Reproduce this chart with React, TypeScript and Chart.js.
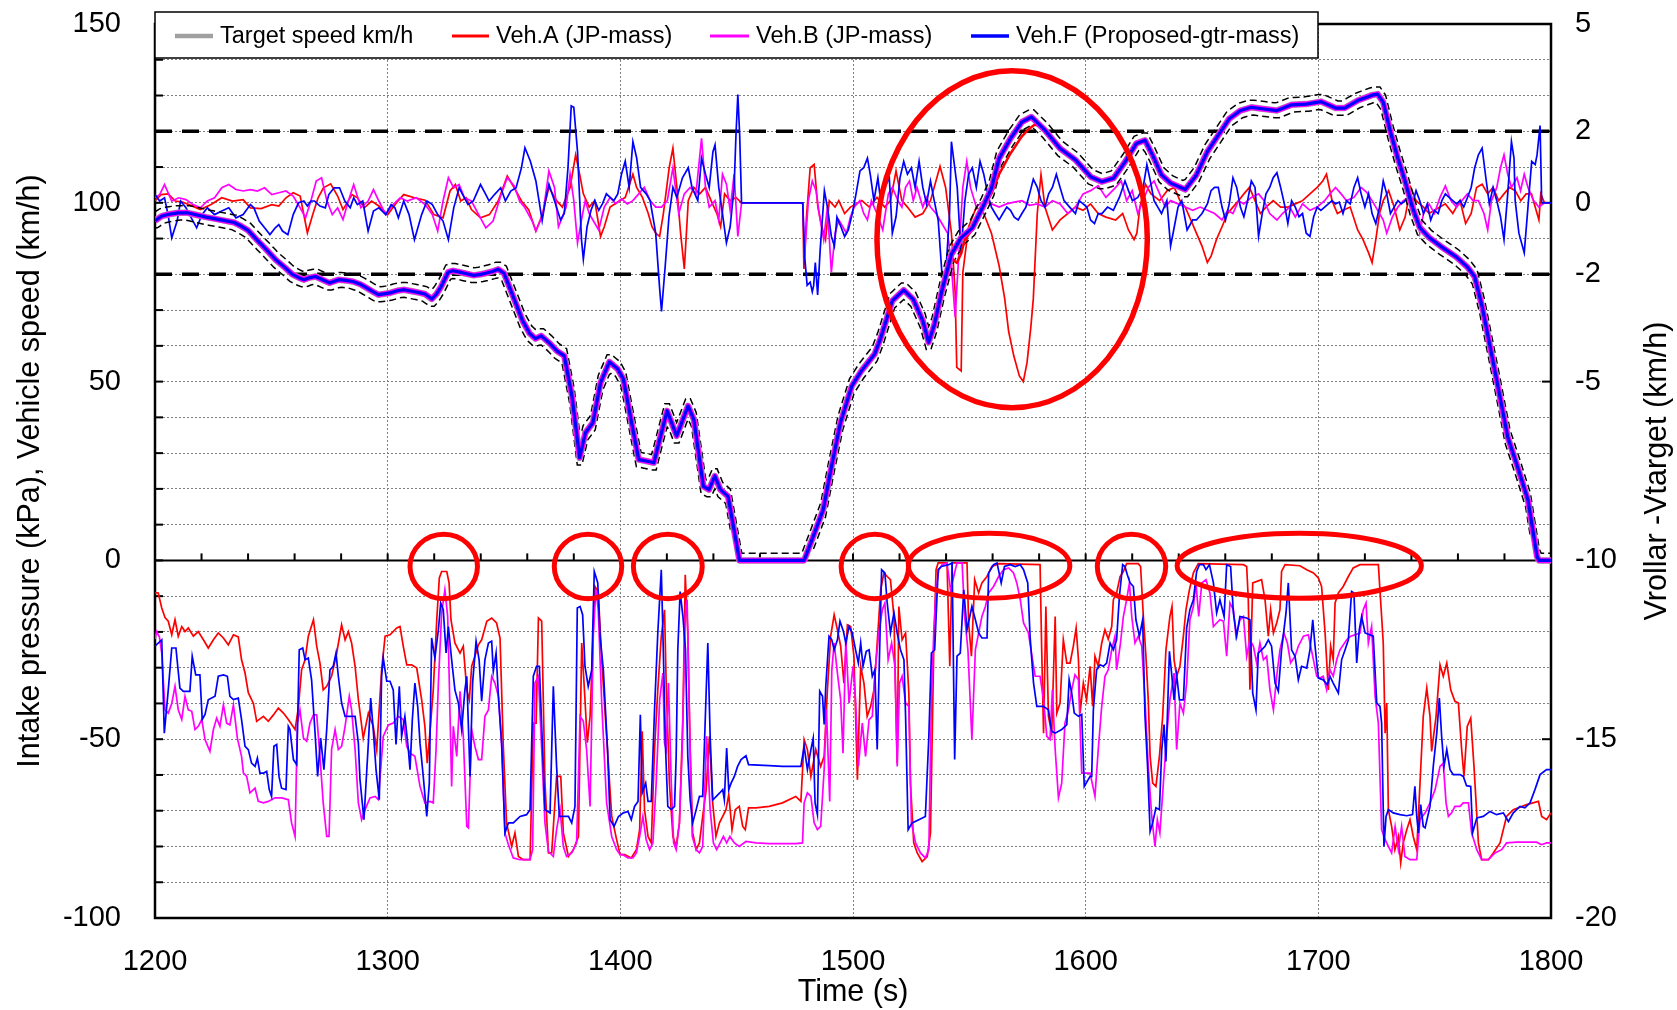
import React, { useEffect, useRef } from 'react';
import { Chart, registerables } from 'chart.js';

Chart.register(...registerables);

const FONT = '"Liberation Sans", Arial, Helvetica, sans-serif';

// ---------- labels / ticks ----------
const legendLabels = ['Target speed km/h', 'Veh.A (JP-mass)', 'Veh.B (JP-mass)', 'Veh.F (Proposed-gtr-mass)'];
const rightTicks = [5, 2, 0, -2, -5, -10, -15, -20];
const toleranceLimits = [2, -2]; // km/h on right axis
const leftTitle = 'Intake pressure (kPa), Vehicle speed (km/h)';
const rightTitle = 'Vrollar -Vtarget (km/h)';
const xTitle = 'Time (s)';

// ---------- vehicle speed (km/h), left axis ----------
const speedTarget: number[][] = [
  [1200,95],[1203,96.3],[1206,96.8],[1210,97.2],[1214,97.2],[1218,96.6],[1222,96],[1226,95.5],[1230,95],[1234,94.5],[1237,93.5],[1240,92.3],[1244,89.5],[1248,86.8],[1252,84],[1256,81.8],[1259,80],[1262,79],[1264,78.5],[1266,79],[1269,79.4],[1272,78.5],[1275,77.6],[1279,78.5],[1282,78.3],[1285,78],[1288,77.3],[1291,76.2],[1294,75],[1296,74.3],[1299,74.6],[1301,74.8],[1304,75.4],[1307,75.7],[1311,75.2],[1314,74.8],[1316,74.5],[1319,73.1],[1321,74.5],[1323,76.6],[1326,80.6],[1328,81],[1331,80.6],[1333,80.3],[1337,79.7],[1340,80],[1342,80.3],[1345,80.8],[1347.5,81.4],[1350,80.3],[1352,77],[1355,72],[1358,67],[1361,63.5],[1363.5,62],[1366,62.8],[1369.5,60.8],[1372.7,58.6],[1375.9,57.2],[1379.2,46],[1382.5,28.7],[1385,35.7],[1388.2,38.5],[1391.5,49.7],[1395.3,55.5],[1398.9,53.5],[1401.3,50.7],[1405.4,36.6],[1407.9,28.2],[1411.1,27.8],[1414.4,27.3],[1416.9,33.8],[1420.1,41.8],[1424.2,34.8],[1429.1,43.2],[1431.6,39.4],[1435.7,20.7],[1438.1,19.8],[1440.6,23.6],[1443,19.8],[1446.3,17.9],[1451.2,0],[1479,0],[1484,8.6],[1487.2,14.2],[1490.5,25.4],[1494.6,38.5],[1499.5,48.8],[1503.6,53],[1509.3,57.7],[1511.8,62],[1516.9,72.6],[1521.8,75.6],[1525.9,73],[1530,67],[1532.5,61],[1535,66],[1538.2,75.4],[1542.3,85.6],[1546.4,90.2],[1551.3,93],[1556.2,99.4],[1559.5,104],[1562.8,112.4],[1567.7,118],[1572.6,122.6],[1576.7,124],[1582.5,120.3],[1589,115.2],[1595.6,112],[1602.1,107.3],[1607,105.9],[1612,106.9],[1617,111.5],[1621.8,116.6],[1625.5,117.5],[1628.7,113.4],[1632.6,107.8],[1636.5,105.5],[1642.8,103.7],[1647.6,107.8],[1652.3,114.3],[1657,118.9],[1661.7,123.5],[1666.5,125.8],[1671.2,126.7],[1675.9,126.3],[1682.2,125.8],[1688.5,127.4],[1694.8,127.6],[1701.1,128.3],[1707.4,126.5],[1711.3,126.5],[1716.9,128.6],[1723.1,130.1],[1725.5,130.4],[1727.9,128.1],[1731,119.8],[1734.2,112.4],[1737.3,106],[1740.5,98.6],[1743.6,93.1],[1747.6,90.3],[1753.1,87.6],[1759.4,84.8],[1764.1,82],[1767.2,79.3],[1770.4,71],[1776.7,50.3],[1781.4,34.5],[1786.1,25.2],[1790.1,16.9],[1794,1.1],[1794.8,0],[1800,0]
];
// Veh.A falls behind the target during the two dips between 1540 s and 1582 s
const speedALag: number[][] = [
  [1542.3,84.5],[1544.6,83.2],[1546.5,85.8],[1548,89.6],[1551.3,92.6],[1556.2,99],[1559.5,102.6],[1562.8,108],[1567.7,113.8],[1572.6,118.6],[1575.5,120.6],[1578,121.8],[1580.5,121.6]
];
const speedA: number[][] = [
  ...speedTarget.filter(([t]) => t < 1542),
  ...speedALag,
  ...speedTarget.filter(([t]) => t > 1582),
];
// Veh.B and Veh.F follow the target trace within the line width
const speedB = speedTarget;
const speedF = speedTarget;

// ---------- Vrollar - Vtarget (km/h), right axis ----------
const devA: number[][] = [
  [1200,0.05],[1202.6,0.23],[1205.7,0.25],[1208.7,0.05],[1211.8,0.02],[1216.4,-0.1],[1219.5,-0.19],[1224.1,-0.05],[1228.7,0.14],[1233.3,0.05],[1237.9,0.09],[1241,-0.14],[1245.6,-0.16],[1250.2,-0.05],[1253.2,-0.09],[1256.3,0.14],[1259.4,0.28],[1262.4,0.19],[1265.5,-0.84],[1267.8,-0.33],[1270.1,0.14],[1272.4,0.42],[1275.5,0.53],[1278.5,0.19],[1280.8,-0.19],[1284.7,0.23],[1287,0.14],[1290,-0.14],[1293.1,0.05],[1296.2,-0.09],[1300,-0.33],[1303.8,0],[1306.9,0.23],[1311.5,0.14],[1316.1,0.07],[1319.9,-0.33],[1323.8,-0.42],[1326.8,0.33],[1329.1,0.51],[1331.4,0.05],[1333.7,0.14],[1336,-0.19],[1339.9,-0.42],[1343.7,-0.33],[1347.5,0.05],[1351.4,0.75],[1354.4,0.42],[1357.5,0.05],[1360.6,-0.19],[1363.7,-0.79],[1366.4,-0.35],[1369.3,0.43],[1372.6,0.06],[1375.1,-0.12],[1378.4,0.43],[1380.8,1.34],[1382.5,0.8],[1384.1,0.25],[1386.6,-0.12],[1389,0.06],[1391.5,-0.94],[1393.1,-0.67],[1395.6,-0.12],[1398.9,0.02],[1402.1,0.15],[1405.4,0.8],[1407,0.43],[1409.5,0.15],[1412,-0.3],[1413.6,-0.67],[1415.2,-0.85],[1416.9,-0.94],[1418.5,-0.3],[1421,0.98],[1422.6,1.53],[1424.3,0.43],[1425.9,-0.85],[1427.5,-1.85],[1429.2,0.06],[1431.6,0.43],[1434.1,0.25],[1436.6,0.43],[1439,0.06],[1441.5,-0.3],[1443.1,-0.67],[1444.8,0.25],[1447.2,0.06],[1449.7,0.15],[1452.1,0],[1478.4,0],[1478.9,-1.85],[1480,-0.4],[1481.6,0.98],[1483.3,1.07],[1484.9,-0.12],[1486.6,-0.67],[1488.2,-1.03],[1489.8,0.06],[1492.3,-0.12],[1493.9,0.06],[1496.4,-0.3],[1498.9,-0.12],[1501.3,-0.03],[1503.8,0.06],[1507,-0.12],[1510.3,0.15],[1513.6,-0.12],[1516.1,0.06],[1518.5,0.89],[1521,0.06],[1523.4,-0.12],[1526.7,-0.4],[1530,-0.3],[1533.3,0.06],[1537.4,1.02],[1539.8,0.43],[1542.3,-0.85],[1543.9,-2.5],[1544.6,-4.6],[1546.5,-4.7],[1547.2,-1.95],[1549.7,-0.67],[1553,-0.12],[1556.2,-0.3],[1559.5,-0.85],[1562.8,-1.76],[1565.2,-2.68],[1566.9,-3.6],[1569.1,-4.28],[1571.5,-4.84],[1573.2,-5.0],[1574.8,-4.47],[1576.4,-3.5],[1577.5,-2.68],[1579.2,-0.3],[1580.8,0.79],[1582.5,-0.12],[1585.7,-0.76],[1589,-0.48],[1592.3,-0.3],[1595.6,-0.12],[1598.9,-0.21],[1602.1,-0.03],[1605.4,-0.3],[1608.7,-0.4],[1612.9,-0.48],[1615.9,-0.3],[1618.4,-0.76],[1620.8,-1.03],[1622,-0.85],[1623.3,-0.12],[1625.7,0.52],[1628.1,0.25],[1631.8,0.06],[1635,0.34],[1638.1,0.43],[1640.5,0.06],[1642.8,-0.12],[1645.2,-0.48],[1647.6,-0.85],[1650,-1.21],[1652.3,-1.67],[1653.9,-1.49],[1656.2,-1.03],[1658.6,-0.67],[1661,-0.3],[1663.3,-0.12],[1665.7,0.06],[1668,0.25],[1670.4,0.43],[1672.8,0.06],[1675.1,-0.3],[1677.5,-0.12],[1680.6,0.06],[1683.8,-0.12],[1686.9,-0.12],[1690.1,-0.03],[1693.2,0.06],[1696.4,0.25],[1699.5,0.43],[1701.9,0.61],[1703.5,0.8],[1705.9,0.06],[1708.2,-0.3],[1710.6,-0.21],[1713.7,-0.12],[1716.9,-0.76],[1719.2,-1.03],[1721.6,-1.4],[1723.1,-1.67],[1724.7,-1.03],[1726.3,-0.3],[1727.9,0.06],[1730.2,0.34],[1732.6,-0.12],[1735,-0.76],[1737.3,-0.4],[1739.7,0.43],[1742,0.06],[1745.2,-0.12],[1747.6,-0.3],[1749.9,-0.21],[1752.3,-0.12],[1754.6,-0.03],[1757.8,-0.3],[1760.9,0.06],[1763.3,-0.58],[1765.7,-0.3],[1768,0.43],[1770.4,0.52],[1772.8,0.25],[1775.1,0.43],[1777.5,0.06],[1779.8,0.25],[1782.2,0.43],[1784.6,0.34],[1787,0.06],[1789.3,0.25],[1791.6,0.25],[1793.2,-0.12],[1794.8,-0.48],[1795.6,0.25],[1797.2,0],[1800,0]
];
const devB: number[][] = [
  [1200,0.14],[1202,0.23],[1204.1,0.51],[1207.2,0.05],[1210.2,0.14],[1213.3,0.09],[1216.4,-0.05],[1219.5,-0.14],[1222.5,0.05],[1225.6,0.14],[1228.7,0.42],[1231.7,0.51],[1234.8,0.37],[1237.9,0.33],[1241,0.37],[1244,0.33],[1247.1,0.42],[1250.2,0.23],[1253.2,0.28],[1256.3,0.33],[1259.4,0.19],[1262.4,-0.14],[1264.7,-0.42],[1267,0.05],[1269.3,0.61],[1271.6,0.7],[1273.9,0.05],[1276.2,-0.33],[1278.5,-0.14],[1280.8,-0.47],[1283.1,0.05],[1285.4,0.51],[1288.5,-0.14],[1291.6,0.05],[1293.9,0.37],[1296.2,0.05],[1299.2,-0.33],[1302.3,-0.05],[1305.4,0.14],[1308.4,0.05],[1312.3,0.14],[1316.1,-0.05],[1319.2,-0.33],[1321.5,-0.79],[1323.8,0.05],[1326.1,0.7],[1328.4,0.42],[1330.7,0.51],[1333,0.14],[1336,0.05],[1339.1,-0.33],[1342.2,-0.7],[1345.3,-0.51],[1348.3,0.14],[1351.4,0.7],[1354.4,0.47],[1356.7,0.05],[1359,-0.14],[1362.1,-0.51],[1363.7,-0.79],[1366.7,-0.33],[1369.3,0.89],[1371.7,0.43],[1373.4,-0.67],[1375.1,-0.4],[1376.7,-0.12],[1378.4,0.8],[1380,0.06],[1381.6,-1.12],[1383.3,-0.48],[1384.9,0.06],[1386.6,-0.3],[1388.2,-0.48],[1390.7,-0.76],[1393.1,-0.12],[1395.6,0.15],[1398,-0.03],[1400.5,0.11],[1403,-0.03],[1405.4,0.06],[1407.9,0.25],[1410.3,0.43],[1412.8,0.06],[1415.2,-0.12],[1417.7,-0.12],[1420.2,0.06],[1422.6,0.98],[1425.1,-0.3],[1427.5,0.25],[1430,0.43],[1432.5,0.25],[1434.9,1.8],[1436.6,0.43],[1438.2,-0.12],[1440.7,0.06],[1442.3,-0.48],[1443.9,0.8],[1445.6,0.52],[1447.2,-0.21],[1448.9,0.8],[1450.5,-0.94],[1452.1,0],[1478.4,0],[1479.2,-1.49],[1480.8,0.06],[1482.5,0.61],[1484.1,0.34],[1485.7,-0.4],[1487.4,-1.03],[1489,-0.12],[1490.7,-1.95],[1492.3,-0.85],[1493.9,-0.48],[1495.6,-0.67],[1497.2,-0.85],[1498.9,-0.4],[1500.5,-0.12],[1502.9,0.06],[1504.6,-0.3],[1506.2,-0.48],[1507.9,0.06],[1510.3,-0.3],[1512.8,-0.76],[1515.2,0.25],[1516.9,0.43],[1519.3,0.06],[1521,-0.12],[1522.6,0.43],[1524.3,0.61],[1525.9,0.06],[1527.5,0.43],[1530,-0.12],[1531.6,0.15],[1533.3,-0.12],[1535.7,-0.3],[1538.2,-0.58],[1540.7,-0.85],[1542.3,-1.76],[1543.9,-3.2],[1545.6,-1.31],[1547.2,0.43],[1548.9,1.16],[1550.5,0.43],[1553,-0.12],[1556.2,0.06],[1559.5,-0.03],[1562.8,-0.12],[1566,-0.03],[1569.3,0.02],[1572.6,0.06],[1575.9,-0.07],[1579.2,-0.03],[1582.5,-0.12],[1585.7,0.06],[1589,-0.03],[1592.3,-0.3],[1595.6,-0.12],[1598.9,0.25],[1602.1,0.34],[1605.4,0.48],[1608.7,0.15],[1612.9,0.43],[1615.3,0.61],[1617.6,0.06],[1620,0.34],[1622.4,-0.3],[1624.7,0.06],[1626.9,0.43],[1629.4,0.61],[1631.8,0.25],[1634.2,-0.12],[1636.5,0.06],[1639.7,-0.03],[1642.8,-0.12],[1646,-0.21],[1649.2,-0.12],[1652.3,-0.21],[1655.4,-0.3],[1658.6,-0.48],[1661,-0.21],[1663.3,-0.3],[1665.7,0.06],[1668,-0.03],[1671.2,0.15],[1674.3,0.25],[1676.7,0.06],[1679.1,-0.3],[1682.2,-0.48],[1684.6,-0.3],[1687.7,-0.12],[1690.1,-0.4],[1693.2,-0.03],[1696.4,-0.21],[1699.5,-0.12],[1702.7,0.06],[1705,0.25],[1707.4,0.43],[1709.8,0.25],[1712.1,0.06],[1715.3,0.15],[1718.4,0.43],[1720.8,0.29],[1723.1,0.06],[1725.5,-0.21],[1727.9,-0.48],[1729.4,-0.85],[1731.8,-0.4],[1734.2,-0.12],[1736.5,0.06],[1738.9,0.15],[1741.3,-0.03],[1743.6,-0.85],[1745.2,-0.3],[1747.6,-0.03],[1749.9,-0.3],[1752.3,0.15],[1754.6,0.47],[1757,0.06],[1759.4,-0.12],[1761.7,0.06],[1764.1,0.25],[1766.5,0.06],[1768.8,0.06],[1771.2,-0.3],[1772.8,-0.76],[1774.4,0.06],[1776.7,0.43],[1778.3,0.98],[1779.8,1.34],[1781.4,0.8],[1783,0.43],[1785.4,0.7],[1786.9,0.34],[1788.5,0.8],[1790.1,0.43],[1792.5,0.06],[1794.8,-0.12],[1797.2,0],[1800,0]
];
const devF: number[][] = [
  [1200,0.23],[1202,0.05],[1204.1,0.14],[1205.6,-0.33],[1207.2,-0.98],[1209.5,-0.51],[1211,0.05],[1213.3,-0.14],[1215.6,-0.42],[1217.9,-0.7],[1220.2,-0.33],[1222.5,-0.14],[1225.6,-0.33],[1228.7,-0.23],[1231.7,-0.14],[1234.8,-0.42],[1237.9,-0.33],[1241,-0.05],[1242.5,-0.14],[1244.8,-0.51],[1247.1,-0.7],[1249.4,-0.89],[1251.7,-0.7],[1253.2,-0.61],[1254.8,-0.79],[1257.1,-0.89],[1259.4,-0.33],[1261.7,0],[1264,0.05],[1265.5,-0.09],[1267,0.05],[1268.6,0.05],[1270.9,-0.09],[1273.2,-0.14],[1274.7,0.23],[1277,0.42],[1279.3,0.42],[1281.6,0.05],[1283.9,-0.14],[1285.4,0.14],[1287,-0.05],[1289.3,0.05],[1291.6,-0.79],[1293.9,-0.23],[1296.2,-0.14],[1299.2,-0.33],[1301.5,-0.05],[1303.1,-0.14],[1304.6,-0.42],[1306.9,0.05],[1309.2,-0.33],[1311.5,-1.03],[1314.6,-0.33],[1316.9,0.05],[1319.2,-0.05],[1321.5,-0.33],[1323.8,-0.51],[1326.1,-1.03],[1328.4,-0.14],[1330.7,0.42],[1333,0.14],[1334.5,-0.05],[1336.8,0.05],[1339.9,0.51],[1342.2,0.23],[1343.6,0.05],[1345.9,0.23],[1348.6,0.42],[1350.6,0.05],[1352.9,0.33],[1355.2,0.42],[1357.5,0.98],[1359,1.54],[1361.3,1.17],[1363.7,0.61],[1366.4,-0.5],[1367.8,0.06],[1369.3,0.52],[1371.7,0.06],[1374.3,-0.48],[1375.9,-0.3],[1377.5,0.98],[1378.9,2.71],[1380,2.67],[1381.6,1.43],[1383.3,-1.03],[1384.1,-1.58],[1385.7,-0.67],[1387.4,-0.21],[1389,0.06],[1390.7,-0.21],[1392.3,-0.03],[1394,0.25],[1395.6,0.15],[1397.2,0.06],[1398.9,0.25],[1400.5,0.8],[1402.1,1.16],[1403.8,0.43],[1405.4,1.71],[1407,1.26],[1408.7,0.43],[1411.1,0.25],[1412.8,0.06],[1415.2,-0.85],[1416.9,-2.4],[1417.7,-3.04],[1419.3,-1.76],[1420.9,-0.39],[1422.6,0.43],[1424.3,0.15],[1426.7,0.7],[1429.2,0.98],[1430.8,0.43],[1433.3,0.06],[1434.9,1.25],[1436.6,0.8],[1438.2,0.43],[1439.8,1.43],[1440.7,1.62],[1442.3,0.43],[1443.9,-0.3],[1445.6,-1.12],[1447.2,-0.67],[1448.9,0.43],[1449.7,1.89],[1450.5,3.03],[1451.3,1.89],[1452.1,0],[1478.4,0],[1479.2,-1.49],[1480.3,-2.31],[1481.6,-2.22],[1482.5,-2.49],[1483.1,-2.31],[1483.8,-1.67],[1484.8,-2.58],[1485.9,-1.31],[1487.7,0.34],[1489,-0.12],[1490.7,-0.94],[1492,-1.21],[1493.1,-0.4],[1494.8,-0.67],[1496.4,-0.94],[1498,-0.76],[1499.7,-0.3],[1501.3,0.25],[1503,0.89],[1504.6,0.98],[1506.2,1.25],[1507.4,0.8],[1509,0.06],[1510.7,0.7],[1512,-0.03],[1513.6,0.43],[1515.6,0.7],[1516.9,-0.85],[1518.5,-0.39],[1520.2,0.7],[1521.8,1.16],[1523.4,0.8],[1525.1,0.98],[1526.7,0.43],[1528.4,1.16],[1530,0.43],[1531.6,-0.03],[1533.3,0.61],[1534.9,0.06],[1536.6,-0.48],[1538.2,-1.95],[1539.8,-2.04],[1541.5,-0.3],[1542.3,1.71],[1544.8,0.43],[1546.4,-1.4],[1548.1,0.06],[1549.7,0.8],[1551.3,0.98],[1553,0.43],[1554.6,1.16],[1556.2,0.8],[1557.9,0.25],[1559.5,-0.12],[1561.1,-0.3],[1562.8,-0.48],[1564.4,-0.3],[1566.1,-0.12],[1567.7,-0.21],[1569.3,-0.4],[1571,-0.48],[1572.6,-0.3],[1574.3,-0.12],[1575.9,0.25],[1577.5,0.66],[1579.2,0.43],[1580.8,0.06],[1582.5,-0.12],[1584.1,0.25],[1585.7,0.43],[1587.4,0.8],[1589,0.43],[1590.7,0.06],[1593.1,-0.12],[1595.6,-0.3],[1597.2,0.06],[1598.9,-0.03],[1600.5,-0.12],[1602.1,-0.48],[1603.8,-0.58],[1605.4,-0.3],[1607,-0.3],[1609.4,-0.12],[1611.9,-0.21],[1614.5,0.15],[1616.9,0.61],[1618.4,0.34],[1620.1,0.06],[1622.4,0.15],[1624.7,0.43],[1626.3,1.07],[1627.8,0.61],[1629.4,0.06],[1631,-0.12],[1632.6,-0.3],[1634.9,0.06],[1636.5,-1.21],[1638.1,-0.67],[1639.7,-0.12],[1641.3,0.06],[1643.6,-0.76],[1646,-0.48],[1647.6,-0.48],[1650,-0.3],[1652.3,-0.03],[1653.9,0.34],[1655.4,0.43],[1657,0.43],[1658.6,-0.12],[1660.1,-0.48],[1661.7,-0.03],[1663.3,0.7],[1664.9,0.43],[1666.5,-0.12],[1668,-0.39],[1669.6,0.06],[1671.2,0.61],[1672.8,0.43],[1674.3,-0.94],[1675.9,-0.3],[1677.5,0.25],[1679.1,0.43],[1680.6,0.7],[1682.2,0.84],[1683.8,0.43],[1685.4,-0.03],[1686.9,-0.58],[1688.5,0.06],[1690.1,-0.12],[1691.7,-0.39],[1693.2,-0.3],[1694.8,-0.85],[1696.4,-0.94],[1698,-0.39],[1699.5,-0.12],[1701.1,-0.21],[1702.7,-0.12],[1704.3,-0.03],[1705.9,0.06],[1707.4,-0.03],[1709,0.02],[1710.6,-0.3],[1712.1,0.06],[1713.7,-0.03],[1715.3,0.43],[1716.9,0.7],[1718.4,0.25],[1720,-0.12],[1721.6,0.25],[1723.1,-0.3],[1724.7,-0.58],[1726.3,-0.12],[1727.9,0.61],[1729.4,0.25],[1731,-0.3],[1732.6,-0.12],[1734.2,0.06],[1735.7,-0.03],[1737.3,0.06],[1738.9,0.15],[1740.5,-0.03],[1742,0.34],[1743.6,0.06],[1745.2,-0.3],[1746.8,-0.03],[1748.3,-0.48],[1749.9,-0.21],[1751.5,-0.3],[1753.1,0.06],[1754.6,0.25],[1756.2,0.15],[1757.8,0.06],[1759.4,-0.03],[1760.9,0.06],[1762.5,-0.12],[1764.1,0.15],[1765.7,0.43],[1767.2,0.98],[1768.8,1.34],[1770.4,1.53],[1772,0.7],[1773.5,-0.03],[1775.1,0.43],[1776.7,0.06],[1778.3,-0.39],[1779.8,-1.03],[1781.4,0.25],[1783,1.71],[1784.1,1.25],[1784.6,0.06],[1786.2,-0.85],[1788.5,-1.4],[1790.1,-0.12],[1791.7,1.16],[1793.2,1.07],[1794,1.34],[1795.3,2.16],[1796,0],[1797.2,0],[1800,0]
];

// ---------- intake pressure (kPa), left axis ----------
const pressA: number[][] = [
  [1200,-9],[1201.4,-9.1],[1202.9,-13.3],[1204.3,-16],[1205.7,-17],[1207.2,-20.8],[1208.6,-16.6],[1210,-21.2],[1211.5,-18.5],[1212.9,-19.9],[1214.3,-18.9],[1216.5,-21.2],[1218.6,-19.9],[1220.8,-22.2],[1222.9,-24.5],[1225.1,-22.2],[1227.2,-20.3],[1229.4,-21.7],[1231.5,-23.6],[1233.7,-20.8],[1235.8,-21.4],[1237.2,-27.8],[1238.7,-31.5],[1240.1,-37],[1242.3,-40],[1243.7,-45],[1246.6,-43.6],[1248.7,-45],[1250.9,-43.2],[1253,-41.3],[1255.2,-42.7],[1257.3,-44.5],[1260.2,-47.3],[1261.6,-41.3],[1263,-30.6],[1264.5,-27.8],[1265.9,-21.2],[1268.1,-16.6],[1269.5,-24],[1270.9,-28.7],[1272.3,-36.2],[1273.8,-35.2],[1275.9,-32.4],[1278.1,-25.9],[1280.2,-18],[1281.7,-22.2],[1283.1,-19.9],[1284.5,-23.1],[1286,-29.6],[1287.4,-38.9],[1289.5,-49.7],[1291.7,-42.7],[1293.8,-46.4],[1295.3,-53],[1297.4,-30.6],[1298.9,-21.2],[1301,-20.8],[1303.9,-18.9],[1305.3,-18.5],[1306.7,-24],[1308.2,-29.2],[1310.3,-29.2],[1312.5,-30.1],[1314.6,-38.9],[1316,-46.4],[1317,-56.7],[1318.2,-47.8],[1319.6,-36.2],[1321.1,-16.6],[1322.2,-4.9],[1323.2,-3.1],[1325.4,-3.1],[1326.4,-6.3],[1327.2,-16.6],[1328.9,-23.1],[1331.1,-25.9],[1332.5,-24],[1334,-36.2],[1335.1,-39],[1336.1,-29.6],[1337.5,-26.8],[1339,-23.6],[1340.4,-22.2],[1342.6,-17],[1344.7,-16.1],[1346.8,-17.5],[1348.3,-21.7],[1349.7,-52],[1351.1,-73.4],[1353.3,-80],[1354.7,-76.2],[1356.2,-82.8],[1358.3,-83.7],[1361.2,-83.7],[1362.6,-45.5],[1363.8,-45.5],[1364.8,-16.1],[1366.2,-17],[1367.6,-62],[1369.1,-81.8],[1370.5,-81.8],[1372.6,-60.4],[1374.4,-60.4],[1375.5,-76.2],[1377.7,-82.8],[1379.8,-80.9],[1382,-77.2],[1383.4,-23.1],[1384.8,-38.9],[1385.8,-51],[1387,-43.6],[1389.1,-7.3],[1390.5,-8.7],[1392,-27.8],[1394.1,-49.2],[1396.3,-71.6],[1398.4,-78.1],[1399.9,-82.3],
  [1401.9,-82.3],[1404.7,-83.2],[1406.9,-80.9],[1408.3,-75.3],[1409.4,-47.8],[1410.4,-69.7],[1411.9,-77.2],[1413.3,-79],[1414.7,-52.9],[1416.1,-36.2],[1417.6,-21.2],[1419,-13.8],[1419.7,-34.3],[1421.1,-62.3],[1422.6,-77.2],[1424,-80],[1425.4,-73.4],[1426.9,-43.6],[1427.9,-4],[1429,-20.3],[1430,-52.9],[1431.1,-76.2],[1432.6,-80.9],[1434,-79],[1435.4,-71.6],[1436.9,-64.1],[1438.3,-49.2],[1439.7,-67.8],[1441.1,-77.2],[1442.6,-73.4],[1444,-71.6],[1445.4,-69.7],[1446.6,-65.5],[1448,-75.3],[1449.4,-69.7],[1451.1,-68.8],[1452.6,-74.4],[1453.7,-75.3],[1455.1,-69.2],[1458.3,-69.2],[1464,-68.8],[1469.7,-67.8],[1475.4,-66],[1477.6,-67.4],[1479,-50.1],[1480.4,-52.9],[1481.9,-60.4],[1484,-52.9],[1486.1,-57.6],[1487.6,-54.8],[1489,-36.2],[1490.4,-21.2],[1491.9,-15.2],[1493.3,-19.4],[1494.7,-24],[1496.1,-34.3],[1497.6,-18],[1499,-18.5],[1500.4,-26.8],[1501.9,-61.3],[1503.3,-29.6],[1504.7,-34.3],[1506.1,-43.6],[1507.6,-40.8],[1509,-36.2],[1510.4,-23.1],[1511.9,-8.2],[1513.3,-3.5],[1514.7,-4.5],[1516.1,-5.4],[1517.6,-15.7],[1519,-56.7],[1519.7,-12.9],[1521.1,-22.2],[1522.6,-20.3],[1524,-37.1],[1524.7,-62.3],[1526.1,-79],[1527.6,-81.8],[1529.7,-84.2],[1531.9,-82.8],[1533.3,-76.2],[1534.7,-25],[1535.7,-2.6],[1536.6,-0.7],[1540.4,-0.7],[1541.6,-29.6],[1542.6,-0.7],[1549,-0.7],[1549.7,-17.5],[1550.9,-26.8],[1552.3,-5.4],[1554,-9.1],[1555.4,-6.3],[1557.6,-4.5],[1559.7,-1.7],[1562.6,-0.9],[1580.4,-1.2],[1581.1,-25],[1581.9,-48.3],[1582.9,-12.9],[1584,-43.6],[1585.4,-48.3],[1586.9,-15.7],[1587.6,-42.7],[1589,-39.9],[1590.4,-22.2],[1591.9,-28.7],[1593.3,-28.7],[1594.7,-24],[1595.9,-18.9],[1596.9,-27.8],[1597.6,-42.7],[1599,-34.3],[1600.4,-39],
  [1601.9,-29.6],[1603,-40.8],[1604,-26.8],[1605.4,-29.6],[1606.9,-23.1],[1608.3,-19.4],[1609.7,-22],[1611.2,-18.5],[1611.9,-11],[1613.3,-9.1],[1614.8,-4.5],[1616.2,-3.1],[1617.6,-0.9],[1622.6,-0.9],[1623.6,-1.7],[1624.8,-15.7],[1625.9,-26.8],[1626.9,-39],[1627.7,-54.8],[1628.8,-62.3],[1630.2,-63.2],[1631.7,-54.8],[1633.1,-43.6],[1634.5,-25],[1636.2,-15.7],[1637.1,-12.9],[1638,-27.8],[1639.1,-32.4],[1640.5,-29.6],[1642,-21.2],[1643.1,-13.8],[1644.6,-8.2],[1646.3,-3.5],[1648.4,-0.9],[1667.8,-1.2],[1669.2,-1.7],[1669.9,-11],[1670.6,-36.2],[1671.8,-6.3],[1675.6,-5.4],[1677.1,-11],[1678.5,-21.2],[1679.5,-13.8],[1680.7,-20.3],[1682.1,-17.5],[1683.5,-13.8],[1684.2,-3.1],[1685.7,-1.2],[1692.1,-1.5],[1695,-2.6],[1697.9,-3.5],[1700,-4.9],[1701.4,-7.3],[1702.9,-20.3],[1704.3,-36.2],[1705.3,-24],[1706.4,-27.8],[1707.2,-11.9],[1708.6,-9.1],[1710.7,-7.3],[1712.9,-4.5],[1715,-2.1],[1717.9,-1.2],[1725.8,-1.2],[1727.2,-15.7],[1727.9,-23.1],[1728.7,-48.3],[1729.4,-39.9],[1730.1,-69.7],[1731.5,-74.4],[1732.9,-80.9],[1734.4,-77.2],[1735.4,-84.6],[1736.5,-79],[1738,-75.3],[1739.4,-72.5],[1740.8,-77.2],[1742.3,-80.9],[1743.7,-62.3],[1745.1,-43.6],[1746.6,-35.7],[1748,-43.6],[1748.7,-53.4],[1750.6,-43.6],[1752.3,-29.2],[1753.7,-32.4],[1755.2,-28.7],[1756.9,-36.2],[1758.7,-39.4],[1760.2,-39.9],[1761.6,-52.9],[1762.6,-60.4],[1764,-46.4],[1765.5,-44.1],[1766.9,-57.6],[1768.8,-79],[1770.2,-83.7],[1773.1,-83.7],[1775.2,-81.8],[1778.1,-79],[1780.9,-71.6],[1783.8,-69.7],[1789.5,-68.3],[1794.6,-67.4],[1796,-71.6],[1798.1,-72.5],[1800,-70.6]
];
const pressB: number[][] = [
  [1200,-22],[1200.7,-19.9],[1201.9,-21.4],[1202.9,-25.9],[1204.3,-41.8],[1205.7,-42.7],[1207.2,-40],[1208.6,-35.2],[1210,-41.8],[1211.5,-44.5],[1212.9,-38],[1214.3,-41.8],[1215.8,-42.2],[1217.2,-47.3],[1218.6,-46.4],[1220.1,-44.5],[1221.5,-50.1],[1223.6,-53.4],[1225.1,-47.3],[1226.5,-44.1],[1227.9,-46.4],[1229.4,-40.4],[1230.8,-45.5],[1232.2,-46],[1233.7,-40.4],[1235.4,-49.7],[1237.2,-54.8],[1238,-59.5],[1239.4,-60.4],[1240.8,-65],[1243,-63.7],[1244.4,-67.4],[1246.6,-67.8],[1248.7,-67.4],[1251.6,-66.4],[1254.4,-66.4],[1257.3,-66.9],[1258.7,-73.4],[1260.2,-77.2],[1261.2,-45.5],[1262.3,-41.8],[1263.8,-49.7],[1265.2,-50.6],[1266.6,-45.5],[1268.1,-43.2],[1269.5,-43.2],[1270.9,-54.8],[1272.3,-67.8],[1273.8,-77.2],[1274.8,-77.2],[1275.9,-52.9],[1277.4,-47.3],[1278.8,-52.9],[1280.2,-52],[1281.7,-46.4],[1283.5,-38],[1284.5,-41.8],[1286,-52.9],[1287.4,-67.8],[1288.8,-72.5],[1290.3,-69.7],[1292.4,-66.4],[1294.6,-66],[1296,-66.9],[1298.1,-49.2],[1300.3,-46],[1302.4,-45.5],[1304.6,-43.6],[1306.7,-44.5],[1308.2,-52],[1309.6,-53.9],[1311.7,-54.8],[1313.9,-63.2],[1316,-67.8],[1318.2,-67.4],[1319.6,-67.8],[1320.8,-52.9],[1321.8,-34.3],[1323.2,-14.7],[1324.6,-8.2],[1325.8,-15.7],[1326.5,-34.3],[1327.5,-63.2],[1328.2,-46.4],[1329.7,-54.8],[1331.1,-36.6],[1332.5,-49.2],[1334,-74.4],[1334.7,-74.8],[1336.1,-47.3],[1337.5,-52],[1339,-55.7],[1340.4,-55.7],[1341.8,-43.6],[1343.3,-41.8],[1344.7,-32.4],[1346.1,-34.3],[1347.6,-38],[1349,-52],[1350.4,-76.2],[1351.9,-79.5],[1354,-83.2],[1356.9,-83.7],[1361.2,-83.7],[1362.3,-80.9],[1363.3,-34.3],[1364.8,-32.4],[1366.2,-52.9],[1367.6,-73.4],[1369.1,-81.4],[1371.2,-82.8],[1372.6,-75.3],[1374.1,-69.7],[1375.5,-80],[1376.9,-82.8],[1379.1,-81.8],[1381.2,-79],[1382.7,-43.6],[1384.1,-45],[1385.5,-52.9],[1387,-68.8],[1388.4,-20.3],[1389.5,-8.2],[1390.5,-13.8],[1392,-39.9],[1394.1,-67.8],[1396.3,-77.2],[1398.4,-80.9],[1399.9,-82.3],
  [1401.1,-82.3],[1403.3,-83.2],[1405.4,-83.2],[1406.9,-81.8],[1408.3,-77.2],[1409.7,-71.6],[1411.1,-78.1],[1412.6,-80.9],[1414,-79],[1415.4,-62.3],[1416.9,-39],[1418.3,-31.5],[1419,-51.1],[1419.7,-52.9],[1420.7,-34.3],[1421.9,-62.3],[1422.9,-79],[1424,-80.9],[1425.4,-73.4],[1426.6,-52.9],[1427.9,-15.7],[1428.7,-11],[1429.7,-43.6],[1430.9,-77.2],[1432.6,-80.9],[1434,-81.8],[1435.4,-80],[1437.1,-49.2],[1438.6,-69.7],[1440,-79],[1441.4,-80.9],[1442.9,-79],[1444.3,-77.2],[1445.7,-79],[1447.1,-77.2],[1449,-79],[1451.1,-80],[1454,-78.6],[1458.3,-79],[1464,-79.2],[1469.7,-79.2],[1475.4,-79.2],[1478.3,-79],[1479,-67.8],[1480.4,-65],[1481.9,-66],[1483.3,-73.4],[1484.7,-75.3],[1486.1,-74.4],[1487.6,-58.5],[1488.6,-41.8],[1490,-67.4],[1490.9,-30.6],[1491.9,-23.1],[1493.3,-31.5],[1494.7,-39],[1495.7,-53.9],[1496.9,-22.2],[1498.3,-39.9],[1500,-29.6],[1501.1,-39],[1502.3,-57.6],[1504,-45.5],[1505.4,-54.8],[1506.9,-44.5],[1508.3,-43.6],[1509.7,-29.6],[1511.1,-20.3],[1512.6,-13.8],[1513.7,-11.9],[1515.1,-27.8],[1516.6,-23.1],[1518,-29.6],[1519,-57.6],[1520,-34.3],[1521.1,-32.4],[1522.6,-39.9],[1524,-40.8],[1525.1,-73.4],[1526.9,-79],[1529,-81.8],[1531.1,-83.2],[1532.6,-80.9],[1533.7,-39],[1534.7,-20.3],[1535.7,-8.2],[1536.9,-2.6],[1538.3,-1.2],[1540.4,-0.7],[1541.9,-8.2],[1543.3,-4.5],[1544.7,-0.7],[1546.9,-0.7],[1548,-15.7],[1549.4,-25],[1551.1,-50.1],[1552.6,-25],[1554,-20.3],[1555.4,-15.7],[1556.9,-12.9],[1558.3,-9.1],[1560.4,-7.3],[1562.6,-4.5],[1564.7,-2.6],[1566.9,-2.1],[1569,-3.5],[1570.4,-6.3],[1571.9,-11],[1573.3,-17.5],[1575.4,-20.3],[1576.9,-26.8],[1578.3,-32.4],[1580.4,-32.4],[1581.9,-39],[1583.3,-49.2],[1584.7,-50.1],[1585.7,-36.2],[1586.9,-52.9],[1588.3,-66.4],[1589.7,-62.3],[1591.1,-45.5],[1592.6,-41.8],[1594,-36.2],[1595.4,-32],[1596.9,-33.4],[1598.3,-59.5],[1601.9,-59.5],
  [1604,-66],[1605.4,-52.9],[1606.9,-40.8],[1608.3,-32.4],[1609.7,-30.6],[1611.2,-25],[1612.6,-21.2],[1613.3,-30.6],[1614.8,-24],[1616.2,-15.7],[1617.6,-11],[1618.8,-6.3],[1619.8,-15.7],[1621.2,-23.1],[1622.6,-21.2],[1624.1,-24],[1625.5,-39],[1626.9,-57.6],[1628.4,-71.6],[1629.8,-80],[1630.8,-72.5],[1631.9,-76.2],[1633.4,-62.3],[1634.8,-49.2],[1636.2,-39],[1638,-31.5],[1639.1,-52.9],[1640.5,-39.9],[1642,-42.7],[1643.4,-34.3],[1644.8,-16.6],[1646.3,-12.9],[1647.4,-6.3],[1648.6,-15.7],[1649.9,-6.3],[1651.7,-5.4],[1653.4,-9.1],[1654.9,-18.5],[1656.3,-17.5],[1657.7,-16.6],[1659.2,-17],[1660.6,-26.8],[1662,-11.9],[1663.5,-13.8],[1664.6,-21.2],[1666.3,-16.6],[1667.8,-15.7],[1669.2,-26.8],[1670.6,-22.2],[1672.1,-24],[1673.5,-28.7],[1674.9,-23.1],[1676.4,-27.8],[1677.8,-26.8],[1679.2,-36.2],[1680.7,-41.8],[1682.1,-32.4],[1683.5,-25],[1685.2,-20.3],[1686.7,-23.1],[1688.1,-28.7],[1690,-26.8],[1691.4,-24],[1693.6,-21.2],[1695.7,-20.8],[1697.9,-27.8],[1699.3,-32.4],[1700.7,-32.9],[1702.1,-32.4],[1703.6,-36.2],[1705,-30.6],[1706.4,-32.4],[1707.9,-27.8],[1709.3,-25],[1712.2,-22.2],[1713.9,-21.2],[1717.9,-20.3],[1719.3,-13.8],[1720.5,-11.9],[1721.5,-23.1],[1722.9,-18.5],[1724.4,-38],[1725.8,-45.5],[1727.2,-75.3],[1728.7,-78.1],[1730.1,-80],[1731.5,-81.8],[1733,-74.4],[1734.4,-80.9],[1735.8,-74.4],[1737.2,-82.8],[1739.4,-83.7],[1742.3,-83.7],[1743.7,-72.5],[1745.9,-70.6],[1748,-67.8],[1750.2,-64.1],[1752.3,-57.6],[1753.7,-56.7],[1754.9,-67.8],[1755.9,-71.6],[1757.3,-70.6],[1758.7,-68.8],[1760.9,-68.8],[1762.3,-67.8],[1764.5,-67.8],[1765.9,-76.2],[1768.1,-80.9],[1770.2,-83.7],[1773.1,-83.7],[1775.9,-81.8],[1778.8,-80.9],[1780.9,-79],[1785.2,-78.8],[1789.5,-78.8],[1793.8,-78.8],[1795.9,-79.5],[1798.1,-79],[1800,-79]
];
const pressF: number[][] = [
  [1200,-24],[1201.4,-23.1],[1202.9,-22.2],[1204,-48.3],[1205.7,-36.2],[1207.2,-24.5],[1209,-24.5],[1210.7,-35.7],[1212.2,-36.6],[1215,-36.6],[1216,-26.8],[1217.5,-32],[1219.3,-32],[1220.3,-44.5],[1221.5,-43.1],[1222.9,-39],[1225.8,-38],[1227.2,-32.4],[1229.4,-32],[1231.1,-32.4],[1232.2,-38],[1233.7,-38.9],[1235.8,-38.5],[1237.2,-44.5],[1238.7,-52],[1240.1,-52.9],[1241.5,-56.7],[1243,-57.6],[1244,-55.3],[1245.1,-59.5],[1246.6,-59.5],[1248,-59],[1249.1,-64.1],[1250.1,-66],[1251.1,-52],[1252.3,-51.5],[1253.3,-60.4],[1254.4,-63.7],[1256.3,-64.1],[1257.3,-46.4],[1258,-47.3],[1259.5,-55.7],[1260.9,-57.1],[1262,-25],[1263.5,-24.5],[1264.5,-27.8],[1265.9,-27.3],[1267.3,-33.4],[1268.8,-48.3],[1269.9,-60.4],[1271.2,-49.7],[1272.6,-58.5],[1273.8,-47.3],[1275.2,-30.6],[1276.6,-29.6],[1277.8,-25.9],[1278.8,-32.4],[1280.2,-39.9],[1281.7,-43.6],[1286,-43.6],[1287.4,-51.1],[1288.1,-61.3],[1289.8,-72.5],[1290.7,-62.3],[1291.7,-51.1],[1292.7,-38.5],[1293.8,-47.3],[1295,-58.5],[1296.4,-66.9],[1297.4,-32.4],[1298.1,-27.3],[1299.6,-33.8],[1301,-33.8],[1302.4,-36.2],[1303.6,-51.5],[1305,-35.2],[1306,-49.2],[1307.4,-43.6],[1308.9,-52.9],[1309.6,-58.5],[1310.6,-44.5],[1311.7,-34.3],[1312.9,-40.8],[1313.9,-51.1],[1315.3,-60.4],[1316.8,-71.6],[1317.9,-62.3],[1318.9,-21.7],[1320.3,-27.3],[1321.8,-19.4],[1322.8,-11.9],[1323.9,-13.8],[1325.1,-25.9],[1326.1,-18.5],[1327.5,-27.8],[1328.9,-36.2],[1330.4,-39.9],[1331.8,-47.3],[1333.2,-36.2],[1334,-32.4],[1335.4,-60.4],[1336.5,-34.3],[1338,-22.6],[1339.3,-27.8],[1340.4,-39.4],[1341.8,-27.8],[1343.3,-23.1],[1344.7,-22.6],[1345.4,-31],[1346.6,-25.9],[1347.6,-38],[1349,-51.1],[1350.4,-76.2],[1351.9,-73.4],[1354,-73.4],[1356.9,-71.6],[1359.7,-71.1],[1361.2,-69.7],[1362.6,-32.4],[1364,-29.6],[1365.2,-29.6],[1366.6,-52.9],[1367.6,-69.7],[1369.8,-70.6],[1371.2,-35.2],[1372.6,-57.6],[1373.8,-71.6],[1377.7,-71.6],[1379.1,-73.4],[1380.5,-68.8],[1381.5,-13.3],[1382.7,-12.9],[1383.8,-15.2],[1384.8,-29.6],[1386.2,-35.2],[1387.7,-30.6],[1388.8,-3.1],[1390.3,-6.3],[1391.3,-21.2],[1392.7,-30.6],[1394.5,-52.9],[1395.6,-72.5],[1397.3,-74.4],[1399.2,-71.6],[1401.3,-70.6],
  [1403.3,-70.2],[1404.7,-72.5],[1406.1,-68.8],[1407.6,-67.4],[1408.6,-43.2],[1409.4,-65],[1410.9,-62.3],[1411.9,-67.4],[1413.3,-67.4],[1414.7,-41.8],[1416.1,-20.3],[1417.6,-2.6],[1418.3,-20.3],[1419.4,-52],[1420.4,-68.8],[1421.9,-69.7],[1423.3,-68.8],[1424,-54.8],[1424.7,-25],[1425.7,-8.7],[1426.9,-15.7],[1428,-25],[1429,-54.8],[1430,-66.9],[1431.1,-73.4],[1432.6,-69.7],[1434,-66],[1435.4,-66],[1436.4,-46.4],[1437.6,-23.1],[1438.6,-49.2],[1439.7,-67],[1442.6,-65.1],[1444,-64.1],[1444.7,-66.9],[1445.7,-52.5],[1446.6,-64.1],[1447.6,-62.3],[1449,-60.4],[1450.4,-57.6],[1451.9,-55.7],[1454,-54.6],[1455.1,-57.1],[1464,-57.4],[1469.7,-57.6],[1477.6,-57.6],[1479,-52],[1480.4,-58.5],[1481.9,-52.9],[1482.9,-49.7],[1483.7,-67.8],[1484.7,-71.1],[1485.7,-36.6],[1486.9,-38],[1487.6,-45.9],[1488.3,-35.2],[1489.7,-21.2],[1490.9,-22.2],[1491.9,-25],[1493.3,-22.2],[1494.4,-17],[1495.9,-19.9],[1496.9,-23.1],[1498.3,-18.5],[1499.7,-20.3],[1501.1,-25],[1502.3,-28.7],[1503.3,-23.1],[1504.3,-29.6],[1505.7,-25.4],[1506.9,-25],[1508.3,-32.4],[1509.4,-30.6],[1510.4,-52.9],[1511.1,-34.3],[1512.3,-2.6],[1513.7,-3.5],[1514.7,-11.9],[1516.1,-20.3],[1517.6,-14.7],[1519,-20.3],[1520.4,-25],[1521.9,-27.8],[1522.6,-43.6],[1523.7,-75.3],[1525.4,-73.4],[1528.3,-72.5],[1531.1,-71.6],[1532.6,-49.2],[1533.7,-25.9],[1535.1,-25],[1536.6,-2.6],[1538,-1.7],[1541.1,-1.2],[1542.6,-0.7],[1543.7,-55.7],[1544.7,-26.8],[1546.1,-25.9],[1547.6,-8.2],[1549,-19.4],[1551.1,-12.9],[1552.6,-16.6],[1554,-20.3],[1555.4,-21.7],[1557.6,-21.7],[1558.3,-3.5],[1560.4,-1.2],[1561.9,-0.7],[1563.7,-6.3],[1565.1,-1.7],[1567.6,-1.2],[1569.7,-1.7],[1571.9,-1.2],[1573.3,-2.6],[1575.1,-6.3],[1576.1,-21.2],[1577.6,-34.3],[1579,-40.8],[1581.9,-40.8],[1584,-41.8],[1585.4,-47.8],[1586.9,-48.3],[1589.7,-47.3],[1591.9,-45.9],[1592.9,-33.4],[1594,-37.1],[1595.1,-42.7],[1596.9,-43.6],[1598.3,-43.1],[1599.4,-63.2],[1601.9,-60.4],
  [1602.6,-60.4],[1603.3,-41.8],[1604.7,-30.6],[1606.2,-29.2],[1607.6,-29.6],[1609,-28.7],[1610.5,-23.1],[1611.9,-25],[1613.3,-22.2],[1614.5,-10.1],[1615.9,-1.2],[1616.9,-1.7],[1617.9,-4],[1619.1,-6.3],[1620.5,-7.3],[1621.6,-16.6],[1623.1,-21.2],[1624.5,-16.6],[1625.5,-43.6],[1626.6,-57.6],[1627.7,-75.8],[1628.8,-73.4],[1630.2,-69.2],[1631.7,-69.7],[1632.7,-52.9],[1633.7,-45.9],[1634.5,-56.2],[1636,-25.4],[1637,-32],[1638,-39],[1639.1,-32],[1640.3,-39],[1642,-39],[1643.4,-18.9],[1644.8,-13.8],[1646.3,-11],[1647.7,-3.1],[1648.9,-1.2],[1650.6,-1.2],[1651.7,-2.6],[1653.2,-1.2],[1654.9,-6.3],[1656.3,-14.7],[1657.7,-11],[1659.5,-15.7],[1660.6,-1.2],[1662.3,-1.7],[1663.5,-14.7],[1664.9,-21.2],[1666.3,-15.7],[1669.2,-16.1],[1670.6,-16.6],[1671.8,-37.1],[1673.2,-41.8],[1674.2,-25.9],[1675.6,-25],[1677.1,-24],[1678.5,-22.2],[1679.9,-24],[1681.4,-34.3],[1682.8,-36.6],[1684.2,-25],[1686.1,-14.7],[1687.1,-6.3],[1688.5,-25],[1690,-26.8],[1691.4,-33.4],[1692.8,-29.6],[1695,-30.1],[1696.4,-25],[1697.6,-16.6],[1698.6,-24],[1700,-32.9],[1702.1,-33.4],[1703.9,-34.8],[1705,-32.4],[1706.4,-34.3],[1708.6,-37.1],[1710,-27.8],[1711.5,-25],[1712.9,-22.2],[1714.3,-8.7],[1715.3,-9.1],[1716.5,-28.7],[1717.6,-19.4],[1718.6,-15.7],[1720.1,-20.3],[1723.6,-21.2],[1725.1,-39.9],[1726.5,-40.8],[1727.2,-45.5],[1728.2,-80],[1729.1,-71.6],[1730.1,-69.7],[1732.2,-70.6],[1735.1,-71.1],[1738,-71.4],[1740.5,-71.1],[1741.5,-63.2],[1742.3,-71.6],[1743,-76.2],[1744,-68.3],[1745.1,-74.4],[1745.9,-74.8],[1748,-68.8],[1749.4,-57.6],[1750.9,-48.3],[1752,-38.5],[1753,-49.2],[1754,-57.6],[1755.2,-52.9],[1756.6,-58.5],[1758,-59.9],[1760.9,-59.9],[1762.3,-60.4],[1763.7,-63],[1765.5,-63.2],[1766.3,-76.2],[1768.1,-72],[1770.9,-71.6],[1773.8,-70.2],[1776.6,-71.1],[1779.5,-70.6],[1781.7,-73],[1783.8,-70.6],[1786.7,-68.8],[1788.8,-69.2],[1791,-67.8],[1793.1,-64.1],[1795.3,-59.9],[1798.1,-58.5],[1800,-58.5]
];

// ---------- highlighted regions: [time centre (s), value centre (left axis), half-width (s), half-height (left units)] ----------
const highlightMarks: number[][] = [
  [1568.4, 89.8, 58.1, 47.1],
  [1324.1, -1.7, 14.5, 9.0],
  [1386.1, -1.7, 14.5, 9.0],
  [1420.4, -1.7, 14.8, 9.0],
  [1509.4, -1.7, 14.5, 9.0],
  [1558.5, -1.5, 34.7, 9.1],
  [1619.7, -1.7, 14.7, 9.0],
  [1691.8, -1.5, 52.5, 9.1],
];

// ---------- helpers ----------
const toXY = (arr: number[][]) => arr.map(([x, y]) => ({ x, y }));

function speedAt(t: number): number {
  const a = speedTarget;
  if (t <= a[0][0]) return a[0][1];
  if (t >= a[a.length - 1][0]) return a[a.length - 1][1];
  for (let i = 1; i < a.length; i++) {
    if (a[i][0] >= t) {
      const [t0, v0] = a[i - 1];
      const [t1, v1] = a[i];
      return v0 + ((v1 - v0) * (t - t0)) / (t1 - t0);
    }
  }
  return 0;
}
// speed-trace tolerance (+/-2 km/h, +/-1 s) derived from the target trace
function windowExtreme(t: number, useMax: boolean): number {
  const vals = [speedAt(t - 1), speedAt(t), speedAt(t + 1)];
  speedTarget.forEach(([ti, vi]) => { if (ti >= t - 1 && ti <= t + 1) vals.push(vi); });
  return useMax ? Math.max(...vals) : Math.min(...vals);
}
const bandTimes = Array.from(new Set(speedTarget.flatMap(([t]) => [t - 1, t, t + 1])))
  .filter((t) => t >= 1200 && t <= 1800)
  .sort((p, q) => p - q);
const bandUpper = bandTimes.map((t) => ({ x: t, y: windowExtreme(t, true) + 2 }));
const bandLower = bandTimes.map((t) => {
  const v = windowExtreme(t, false) - 2;
  return { x: t, y: v < 0.5 ? null : v };
});

const RED = '#ff0000';
const MAG = '#ff00ff';
const BLUE = '#0000ff';
const GRAY = '#a0a0a0';

function line(ctx: CanvasRenderingContext2D, x1: number, y1: number, x2: number, y2: number) {
  ctx.beginPath();
  ctx.moveTo(x1, y1);
  ctx.lineTo(x2, y2);
  ctx.stroke();
}

const decor = {
  id: 'decor',
  beforeDatasetsDraw(chart: any) {
    const { ctx, chartArea: a, scales } = chart;
    const x = scales.x, y = scales.y, y2 = scales.y2;
    ctx.save();
    ctx.strokeStyle = '#000';
    ctx.setLineDash([]);
    const y0 = y.getPixelForValue(0);
    ctx.lineWidth = 2;
    line(ctx, a.left, y0, a.right, y0);
    for (let t = 1220; t < 1800; t += 20) {
      const px = x.getPixelForValue(t);
      line(ctx, px, y0, px, y0 - 7);
    }
    for (let v = -90; v < 150; v += 10) {
      const py = y.getPixelForValue(v);
      line(ctx, a.left, py, a.left + 8, py);
    }
    for (const v of rightTicks) {
      const py = y2.getPixelForValue(v);
      line(ctx, a.right - 9, py, a.right, py);
    }
    ctx.lineWidth = 2.5;
    ctx.strokeRect(a.left, a.top, a.right - a.left, a.bottom - a.top);
    ctx.restore();
  },
  afterDraw(chart: any) {
    const { ctx, chartArea: a, scales } = chart;
    const x = scales.x, y = scales.y;
    ctx.save();
    // highlight ellipses
    ctx.strokeStyle = RED;
    ctx.setLineDash([]);
    highlightMarks.forEach(([t, v, rt, rv], i) => {
      const cx = x.getPixelForValue(t);
      const cy = y.getPixelForValue(v);
      const rx = Math.abs(x.getPixelForValue(t + rt) - cx);
      const ry = Math.abs(y.getPixelForValue(v + rv) - cy);
      ctx.lineWidth = i === 0 ? 5.5 : 5;
      ctx.beginPath();
      ctx.ellipse(cx, cy, rx, ry, 0, 0, Math.PI * 2);
      ctx.stroke();
    });
    // legend box
    const lx = a.left, ly = 12, lw = 1318 - a.left, lh = 46;
    ctx.fillStyle = '#fff';
    ctx.fillRect(lx, ly, lw, lh);
    ctx.strokeStyle = '#000';
    ctx.lineWidth = 1.5;
    ctx.strokeRect(lx, ly, lw, lh);
    const items = [
      { c: GRAY, w: 4.5, x0: 175, x1: 213, tx: 220 },
      { c: RED, w: 3, x0: 452, x1: 489, tx: 496 },
      { c: MAG, w: 3, x0: 710, x1: 749, tx: 756 },
      { c: BLUE, w: 3.5, x0: 971, x1: 1009, tx: 1016 },
    ];
    const iy = 36;
    ctx.font = `23.5px ${FONT}`;
    ctx.textBaseline = 'middle';
    ctx.textAlign = 'left';
    items.forEach((it, i) => {
      ctx.strokeStyle = it.c;
      ctx.lineWidth = it.w;
      line(ctx, it.x0, iy, it.x1, iy);
      ctx.fillStyle = '#000';
      ctx.fillText(legendLabels[i], it.tx, iy + 1);
    });
    // axis titles
    ctx.fillStyle = '#000';
    ctx.font = `30.5px ${FONT}`;
    ctx.textAlign = 'center';
    ctx.textBaseline = 'middle';
    const cyMid = (a.top + a.bottom) / 2;
    ctx.save();
    ctx.translate(31, cyMid);
    ctx.rotate(-Math.PI / 2);
    ctx.fillText(leftTitle, 0, 0);
    ctx.restore();
    ctx.save();
    ctx.translate(1658, cyMid);
    ctx.rotate(-Math.PI / 2);
    ctx.fillText(rightTitle, 0, 0);
    ctx.restore();
    ctx.fillText(xTitle, (a.left + a.right) / 2, 993);
    ctx.restore();
  },
};

export default function App() {
  const ref = useRef<HTMLCanvasElement | null>(null);
  useEffect(() => {
    if (!ref.current) return;
    const tickFont = { size: 29, family: FONT };
    const thin = (data: number[][], color: string, axis: string, order: number) => ({
      data: toXY(data), borderColor: color, borderWidth: 1.7, yAxisID: axis, order,
      pointRadius: 0, tension: 0, fill: false,
    });
    const datasets: any[] = [
      { data: toXY(speedF), borderColor: BLUE, borderWidth: 3.2, yAxisID: 'y', order: 1, pointRadius: 0, borderJoinStyle: 'round' },
      { data: toXY(speedB), borderColor: MAG, borderWidth: 5.5, yAxisID: 'y', order: 2, pointRadius: 0, borderJoinStyle: 'round' },
      { data: toXY(speedA), borderColor: RED, borderWidth: 2.5, yAxisID: 'y', order: 3, pointRadius: 0, borderJoinStyle: 'round' },
      { data: toXY(speedTarget), borderColor: GRAY, borderWidth: 6.5, yAxisID: 'y', order: 4, pointRadius: 0, borderJoinStyle: 'round' },
      { data: bandUpper, borderColor: '#000', borderWidth: 1.5, borderDash: [7, 4], yAxisID: 'y', order: 5, pointRadius: 0, spanGaps: false },
      { data: bandLower, borderColor: '#000', borderWidth: 1.5, borderDash: [7, 4], yAxisID: 'y', order: 5, pointRadius: 0, spanGaps: false },
      thin(devF, BLUE, 'y2', 10),
      thin(devB, MAG, 'y2', 11),
      thin(devA, RED, 'y2', 12),
      thin(pressF, BLUE, 'y', 20),
      thin(pressB, MAG, 'y', 21),
      thin(pressA, RED, 'y', 22),
      ...toleranceLimits.map((v) => ({
        data: [{ x: 1200, y: v }, { x: 1800, y: v }], borderColor: '#000', borderWidth: 3.5,
        borderDash: [17, 10], yAxisID: 'y2', order: 30, pointRadius: 0,
      })),
    ];
    const chart = new Chart(ref.current, {
      type: 'line',
      data: { datasets },
      options: {
        responsive: false,
        animation: false,
        devicePixelRatio: 1,
        events: [],
        layout: { padding: { top: 24, left: 0, right: 0, bottom: 0 } },
        plugins: { legend: { display: false }, tooltip: { enabled: false }, title: { display: false } },
        elements: { point: { radius: 0 }, line: { tension: 0 } },
        scales: {
          x: {
            type: 'linear', min: 1200, max: 1800,
            ticks: { stepSize: 100, font: tickFont, color: '#000', padding: 27, maxRotation: 0, autoSkip: false, callback: (v: any) => String(v) },
            grid: { color: '#808080', lineWidth: 1, drawTicks: false },
            border: { display: false, dash: [2, 2] },
            afterFit: (s: any) => { s.height = 92; },
          },
          y: {
            type: 'linear', position: 'left', min: -100, max: 150,
            ticks: {
              stepSize: 10, autoSkip: false, maxTicksLimit: 100, font: tickFont, color: '#000', padding: 0,
              callback: (v: any) => (Number(v) % 50 === 0 ? String(v) : ''),
            },
            grid: { color: '#808080', lineWidth: 1, drawTicks: true, tickLength: 34, tickColor: 'rgba(0,0,0,0)' },
            border: { display: false, dash: [2, 2] },
            afterFit: (s: any) => { s.width = 155; },
          },
          y2: {
            type: 'linear', position: 'right', min: -20, max: 5,
            afterBuildTicks: (s: any) => { s.ticks = rightTicks.map((v) => ({ value: v })); },
            ticks: { autoSkip: false, font: tickFont, color: '#000', padding: 0, callback: (v: any) => String(v) },
            grid: { display: true, drawOnChartArea: false, drawTicks: true, tickLength: 24, tickColor: 'rgba(0,0,0,0)' },
            border: { display: false },
            afterFit: (s: any) => { s.width = 126; },
          },
        },
      } as any,
      plugins: [decor],
    } as any);
    return () => chart.destroy();
  }, []);
  return (
    <div style={{ position: 'absolute', left: 0, top: 0, width: 1677, height: 1010, background: '#fff' }}>
      <canvas ref={ref} width={1677} height={1010} style={{ display: 'block', width: 1677, height: 1010 }} />
    </div>
  );
}
